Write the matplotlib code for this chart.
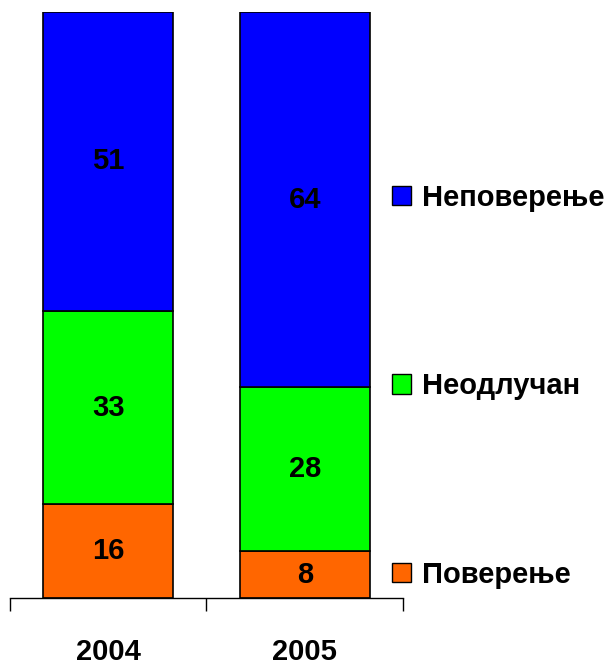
import matplotlib
matplotlib.use("Agg")
import matplotlib.pyplot as plt
from matplotlib.patches import Patch

years = ["2004", "2005"]
series = ["Поверење", "Неодлучан", "Неповерење"]
poverenje = [16, 8]
neodlucan = [33, 28]
nepoverenje = [51, 64]
colors = ["#FF6600", "#00FF00", "#0000FF"]

plt.rcParams['font.family'] = ['Liberation Sans', 'DejaVu Sans']
plt.rcParams['font.weight'] = 'bold'

FS = 21
fig = plt.figure(figsize=(6.13, 6.66), dpi=100)
W, H = 613, 666
ax = fig.add_axes([10 / W, 1 - 598 / H, (403 - 10) / W, (598 - 12) / H])

x = list(range(len(years)))
bottom = [0] * len(years)
handles = []
for vals, name, col in zip([poverenje, neodlucan, nepoverenje], series, colors):
    ax.bar(x, vals, width=0.66, bottom=bottom, color=col,
           edgecolor="black", linewidth=1.2, label=name)
    for xi, v, b in zip(x, vals, bottom):
        ax.text(xi, b + v / 2, str(v), ha="center", va="center",
                fontsize=FS, fontweight="bold", color="black")
    bottom = [b + v for b, v in zip(bottom, vals)]
    handles.append(Patch(facecolor=col, edgecolor="black", linewidth=1.0, label=name))

ax.set_xlim(-0.5, 1.5)
ax.set_ylim(0, 100)
for s in ["left", "right", "top"]:
    ax.spines[s].set_visible(False)
ax.spines["bottom"].set_linewidth(1.0)
ax.set_yticks([])
ax.set_xticks(x)
ax.set_xticklabels(years, fontsize=FS, fontweight="bold")
ax.tick_params(axis="x", which="major", length=0, pad=29)
ax.set_xticks([-0.5, 0.5, 1.5], minor=True)
ax.tick_params(axis="x", which="minor", length=9, width=1.0, direction="out")

leg = fig.legend(handles[::-1], [h.get_label() for h in handles[::-1]],
                 loc="upper left", bbox_to_anchor=(392 / W, 1 - 184 / H),
                 frameon=False, prop={"weight": "bold", "size": FS},
                 handlelength=0.65, handleheight=0.65, handletextpad=0.38,
                 labelspacing=5.5, borderaxespad=0, borderpad=0)

fig.savefig("out.png", dpi=100)
